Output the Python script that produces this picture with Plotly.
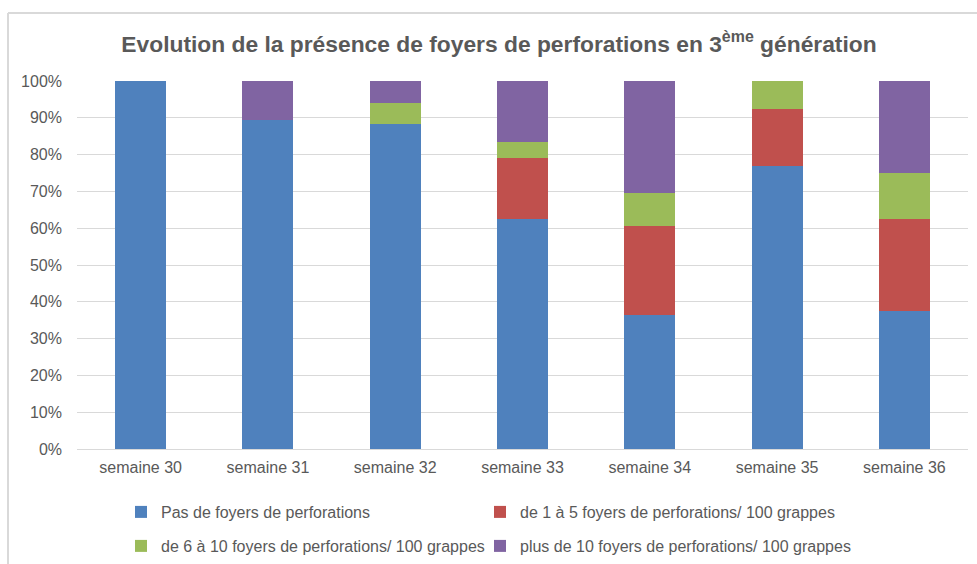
import plotly.graph_objects as go

categories = ["semaine 30", "semaine 31", "semaine 32", "semaine 33", "semaine 34", "semaine 35", "semaine 36"]
pas_de_foyers = [1.000, 0.893, 0.882, 0.625, 0.364, 0.769, 0.375]
de_1_a_5 = [0.000, 0.000, 0.000, 0.167, 0.242, 0.154, 0.250]
de_6_a_10 = [0.000, 0.000, 0.059, 0.042, 0.091, 0.077, 0.125]
plus_de_10 = [0.000, 0.107, 0.059, 0.166, 0.303, 0.000, 0.250]

W, H = 977, 564
series = [
    ("Pas de foyers de perforations", pas_de_foyers, "#4F81BD", "legend", 121, 512),
    ("de 1 à 5 foyers de perforations/ 100 grappes", de_1_a_5, "#C0504D", "legend2", 480, 512),
    ("de 6 à 10 foyers de perforations/ 100 grappes", de_6_a_10, "#9BBB59", "legend3", 121, 546),
    ("plus de 10 foyers de perforations/ 100 grappes", plus_de_10, "#8064A2", "legend4", 480, 546),
]

TXT = "#595959"
GRID = "#d9d9d9"
FONT = "Liberation Sans"

fig = go.Figure()
for name, vals, col, leg, lx, ly in series:
    fig.add_trace(go.Bar(x=categories, y=vals, name=name, marker_color=col,
                         marker_line_width=0, legend=leg, hoverinfo="skip"))

L, R, T, B = 77, 9, 81, 115
pw, ph = W - L - R, H - T - B

def px(x):
    return (x - L) / pw

def py(y):
    return (H - B - y) / ph

legend_common = dict(orientation="h", xanchor="left", yanchor="middle",
                     xref="container", yref="container",
                     font=dict(family=FONT, size=16, color=TXT),
                     bgcolor="rgba(0,0,0,0)", traceorder="normal", itemclick=False)

legends = {}
for name, vals, col, leg, lx, ly in series:
    legends[leg] = dict(x=lx / W, y=1 - ly / H, **legend_common)

fig.update_layout(
    width=W, height=H,
    margin=dict(l=L, r=R, t=T, b=B, autoexpand=False),
    paper_bgcolor="white", plot_bgcolor="white",
    barmode="stack", bargap=0.6,
    title=dict(text="Evolution de la présence de foyers de perforations en 3<sup>ème</sup> génération",
               x=499 / W, xref="container", y=1 - 44 / H, yanchor="middle", xanchor="center",
               font=dict(family=FONT, size=22.8, color=TXT, weight="bold")),
    font=dict(family=FONT, size=16, color=TXT),
    xaxis=dict(showgrid=False, showline=True, linecolor=GRID, linewidth=1,
               tickfont=dict(family=FONT, size=16, color=TXT), ticks="",
               ticklabelstandoff=4),
    yaxis=dict(range=[0, 1], dtick=0.1, tickformat=".0%", showgrid=True,
               gridcolor=GRID, gridwidth=1, zeroline=False, showline=False, ticks="",
               tickfont=dict(family=FONT, size=16, color=TXT), ticklabelstandoff=14),
    shapes=[
        dict(type="line", xref="paper", yref="paper", x0=px(8), x1=px(980), y0=py(13), y1=py(13),
             line=dict(color=GRID, width=2)),
        dict(type="line", xref="paper", yref="paper", x0=px(8), x1=px(8), y0=py(13), y1=py(570),
             line=dict(color=GRID, width=2)),
    ],
    showlegend=True,
    **legends,
)

fig.write_html("out.html", config={"displayModeBar": False},
               post_script="document.body.style.margin='0';document.body.style.overflow='hidden';")
